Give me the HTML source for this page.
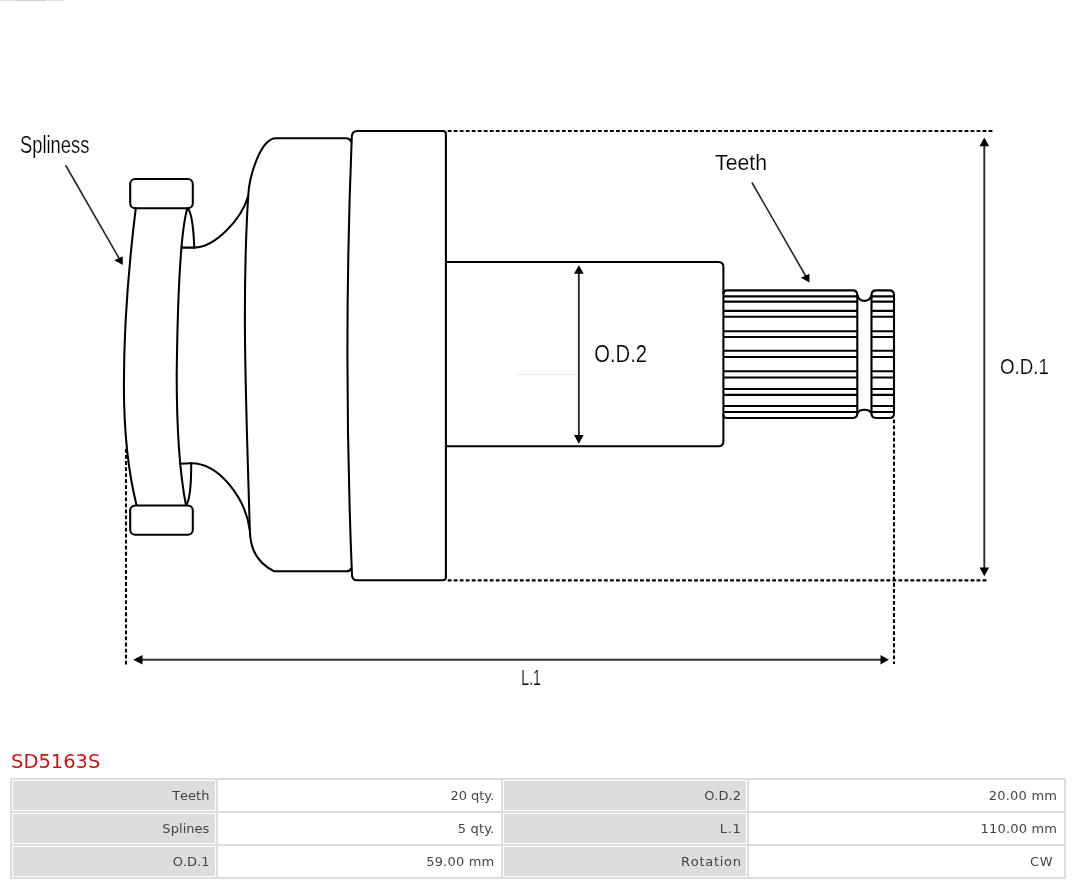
<!DOCTYPE html>
<html lang="en">
<head>
<meta charset="utf-8">
<title>SD5163S</title>
<style>
html,body{margin:0;padding:0;background:#fff;}
body{width:1080px;height:884px;position:relative;overflow:hidden;font-family:"DejaVu Sans","Liberation Sans",sans-serif;}
#drawing{position:absolute;left:0;top:0;width:1080px;height:740px;display:block;}
#drawing text{font-family:"Liberation Sans","DejaVu Sans",sans-serif;font-weight:normal;fill:#000;stroke:#fff;stroke-width:0.2px;}
h1{position:absolute;left:11px;top:750.6px;margin:0;font-size:19.5px;line-height:22px;font-weight:normal;color:#c4161c;white-space:nowrap;}
table{position:absolute;left:10px;top:778px;width:1056px;table-layout:fixed;border-collapse:separate;border-spacing:0;border:1px solid #ddd;font-size:13px;color:#444;font-kerning:none;}
td{border:1px solid #ddd;padding:1px;height:29px;text-align:right;}
td div{height:29px;line-height:29px;padding-right:6px;white-space:pre;}
td span{display:inline-block;}
td.v{font-kerning:normal;}
td.k div{background:#ddd;}
td.c1 div{padding-right:5.6px;}
td.c2 div{padding-right:5.75px;}
td.c3 div{padding-right:5.1px;}
td.c4 div{padding-right:6px;}
table,h1,#drawing{will-change:transform;}
</style>
</head>
<body>
<svg id="drawing" width="1080" height="740" viewBox="0 0 1080 740">
<g fill="none" stroke="#000" stroke-width="2.05" stroke-linecap="round" stroke-linejoin="round">
  <!-- spline teeth (small rects) -->
  <rect x="130.2" y="179" width="62.6" height="29.2" rx="5" ry="5"/>
  <rect x="130.2" y="505.4" width="62.6" height="29.3" rx="5" ry="5"/>
  <!-- flange -->
  <path d="M135.8,208.1 C127.9,271.8 123.9,325.3 123.9,385 C123.9,424.4 127.2,467.7 136.5,504.9"/>
  <path d="M187.4,208.3 C179.3,234.5 177.3,323.4 176.7,375 C176.7,416.8 177.8,463.2 185.9,504.9"/>
  <path d="M187.7,208.5 C191.5,212 193.5,228 194.3,247.8"/>
  <path d="M186.3,504.9 C189.5,500 191.3,490 191.2,463.2"/>
  <path d="M181.6,247.6 H194.2"/>
  <path d="M179.9,463.8 Q185,463.2 191.2,463.2"/>
  <!-- body -->
  <path d="M194.2,247.6 C214.6,247.6 241.2,220.1 248.2,196 C249.1,176.7 260.4,138.3 276,138.3 H346.4 Q350.3,138.6 350.9,141.5"/>
  <path d="M191.2,463.2 C219.6,463.2 245.6,498.7 249.8,530 C250.2,542 252,560 274.2,571.3 H346.4 Q350.3,571.2 350.9,568.7"/>
  <path d="M248.2,196 C241.4,304.2 246.7,418.1 249.8,530"/>
  <!-- big cylinder -->
  <path d="M357.1,131 Q352.2,131.3 351.8,136.4 C346,280 346,430 352,575.5 Q352.6,580.3 357,580.3 H442.9 Q445.9,580.3 445.9,577.3 V134 Q445.9,131 442.9,131 Z"/>
  <!-- shaft -->
  <path d="M445.9,262 H718.4 Q723.4,262 723.4,267 V441.3 Q723.4,446.3 718.4,446.3 H445.9"/>
</g>
<g fill="none" stroke="#000" stroke-width="2.1" stroke-linecap="butt" stroke-linejoin="round">
  <!-- teeth outline -->
  <path d="M723.4,294 Q723.4,290.4 727,290.4 H852.8 Q857.3,290.4 857.3,295 C858,298 860.5,300.9 864.4,300.9 C868.3,300.9 870.8,298 871.5,295 Q871.5,290.4 876,290.4 H889.5 Q894,290.4 894,295 V413.5 Q894,418 889.5,418 H876 Q871.5,418 871.5,413.6 C870.8,412 868.3,409.8 864.4,409.8 C860.5,409.8 858,412 857.3,413.6 Q857.3,418 852.8,418 H727 Q723.4,418 723.4,414.4"/>
  <path d="M857.3,295 V413.6 M871.5,295 V413.6"/>
  <path d="M723.4,296.4 H857.3 M723.4,301.6 H857.3 M723.4,310.9 H857.3 M723.4,316.8 H857.3 M723.4,331.2 H857.3 M723.4,337 H857.3 M723.4,350.8 H857.3 M723.4,357 H857.3 M723.4,371.2 H857.3 M723.4,377.5 H857.3 M723.4,389 H857.3 M723.4,394.9 H857.3 M723.4,406 H857.3 M723.4,412 H857.3"/>
  <path d="M871.5,296.4 H894 M871.5,301.6 H894 M871.5,310.9 H894 M871.5,316.8 H894 M871.5,331.2 H894 M871.5,337 H894 M871.5,350.8 H894 M871.5,357 H894 M871.5,371.2 H894 M871.5,377.5 H894 M871.5,389 H894 M871.5,394.9 H894 M871.5,406 H894 M871.5,412 H894"/>
</g>
<!-- dashed extension lines -->
<g fill="none" stroke="#000" stroke-width="2.1" stroke-dasharray="3.8 2.21">
  <path d="M447.7,131 H992.6"/>
  <path d="M447.7,580.4 H987.6"/>
</g>
<g fill="none" stroke="#000" stroke-width="2.1" stroke-dasharray="3.8 2.25">
  <path d="M126,449 V665"/>
  <path d="M894,419.5 V664"/>
</g>
<!-- dimension arrows -->
<g fill="none" stroke="#2a2a2a" stroke-width="1.9">
  <path d="M984.3,145 V569"/>
  <path d="M578.85,272 V437"/>
</g>
<path d="M141,659.75 H882" fill="none" stroke="#333" stroke-width="2.1"/>
<g fill="none" stroke="#222" stroke-width="1.55">
  <path d="M65.6,165.25 L119.5,259"/>
  <path d="M751.9,182.5 L806,276.5"/>
</g>
<g fill="#000" stroke="none">
  <path d="M984.3,137.5 L989.1,146.2 H979.5 Z"/>
  <path d="M984.3,576.3 L989.1,567.5 H979.5 Z"/>
  <path d="M578.85,265.2 L583.7,273.8 H574 Z"/>
  <path d="M578.85,443.8 L583.7,435 H574 Z"/>
  <path d="M133.2,659.7 L142.5,654.9 V664.5 Z"/>
  <path d="M888.8,659.7 L880.5,654.9 V664.5 Z"/>
  <path d="M122.8,265 L114.2,260.2 L122.7,256.2 Z"/>
  <path d="M809.5,282.5 L800.9,277.7 L809.4,273.7 Z"/>
</g>
<path d="M516,374.3 H576" stroke="#ddd" stroke-width="1" stroke-dasharray="1 1" fill="none"/>
<path d="M0,0.5 H64" stroke="#ccc" stroke-width="1" stroke-dasharray="1 1" fill="none"/>
<path d="M16,0.5 H47" stroke="#d0d0d0" stroke-width="1" fill="none"/>
<text x="20" y="152.7" font-size="23" textLength="69.4" lengthAdjust="spacingAndGlyphs">Spliness</text>
<text x="715" y="170" font-size="22.2" textLength="52" lengthAdjust="spacingAndGlyphs">Teeth</text>
<text x="594.2" y="361.7" font-size="23.6" textLength="52.8" lengthAdjust="spacingAndGlyphs">O.D.2</text>
<text x="1000" y="374.4" font-size="21.8" textLength="49" lengthAdjust="spacingAndGlyphs">O.D.1</text>
<text x="521.3" y="684.7" font-size="21.8" textLength="19.6" lengthAdjust="spacingAndGlyphs">L.1</text>
</svg>
<h1>SD5163S</h1>
<table>
<colgroup><col style="width:206px"><col style="width:285px"><col style="width:246px"><col style="width:317px"></colgroup>
<tr><td class="k c1"><div><span>Teeth</span></div></td><td class="v c2"><div><span style="letter-spacing:-0.04px;margin-right:0.04px">20 qty.</span></div></td><td class="k c3"><div><span>O.D.2</span></div></td><td class="v c4"><div><span style="letter-spacing:0.24px;margin-right:-0.24px">20.00 mm</span></div></td></tr>
<tr><td class="k c1"><div><span style="letter-spacing:0.05px;margin-right:-0.05px">Splines</span></div></td><td class="v c2"><div><span style="letter-spacing:0.13px;margin-right:-0.13px">5 qty.</span></div></td><td class="k c3"><div><span style="letter-spacing:0.7px;margin-right:-0.7px">L.1</span></div></td><td class="v c4"><div><span style="letter-spacing:0.18px;margin-right:-0.18px">110.00 mm</span></div></td></tr>
<tr><td class="k c1"><div><span style="letter-spacing:-0.05px;margin-right:0.05px">O.D.1</span></div></td><td class="v c2"><div><span style="letter-spacing:0.2px;margin-right:-0.2px">59.00 mm</span></div></td><td class="k c3"><div><span style="letter-spacing:0.7px;margin-right:-0.7px">Rotation</span></div></td><td class="v c4"><div><span style="letter-spacing:0.5px;margin-right:4px">CW</span></div></td></tr>
</table>
</body>
</html>
